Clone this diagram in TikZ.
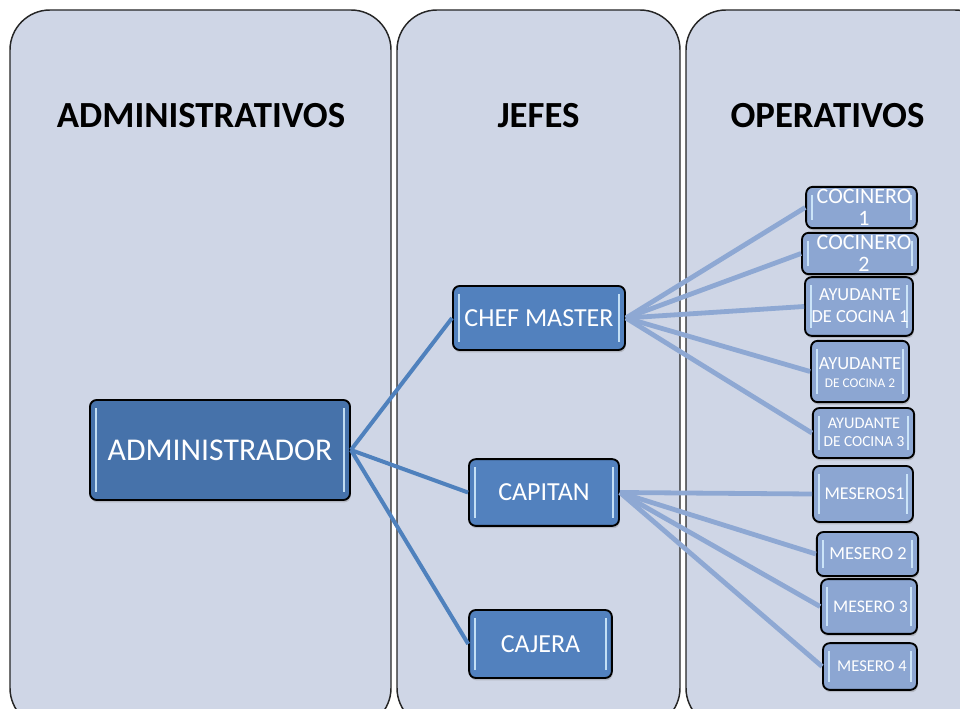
\documentclass[tikz,border=0pt]{standalone}
\usepackage{fontspec}
\setmainfont{Carlito}
\usetikzlibrary{shadows}
\definecolor{panelfill}{RGB}{207,214,230}
\definecolor{admfill}{RGB}{70,114,170}
\definecolor{jefefill}{RGB}{82,129,190}
\definecolor{opfill}{RGB}{140,166,210}
\definecolor{lineA}{RGB}{79,129,189}
\definecolor{lineB}{RGB}{142,168,211}
\definecolor{bevelc}{RGB}{215,240,255}
\begin{document}
\begin{tikzpicture}[x=0.75pt,y=-0.75pt,
  panel/.style={draw=black!85, line width=1.1pt, fill=panelfill, rounded corners=30pt},
  paneltitle/.style={font=\bfseries\fontsize{27.6}{33}\selectfont, anchor=base, inner sep=0pt},
  boxbase/.style={draw=black, line width=1.4pt, rounded corners=5pt, inner sep=0pt,
    text=white, align=center,
    drop shadow={shadow xshift=0.6pt, shadow yshift=-1.8pt, opacity=0.35},
    path picture={
      \draw[bevelc, line width=1.6pt, opacity=0.85]
        ([xshift=4.5pt,yshift=-6pt]path picture bounding box.north west) --
        ([xshift=4.5pt,yshift=6pt]path picture bounding box.south west);
      \draw[bevelc, line width=1.6pt, opacity=0.85]
        ([xshift=-4.5pt,yshift=-6pt]path picture bounding box.north east) --
        ([xshift=-4.5pt,yshift=6pt]path picture bounding box.south east);
    }},
  admbox/.style={boxbase, fill=admfill},
  jefebox/.style={boxbase, fill=jefefill, font=\fontsize{19.5}{22}\selectfont},
  opbox/.style={boxbase, fill=opfill},
  optext/.style={text=white, align=center, inner sep=0pt},
  linkA/.style={draw=lineA, line width=3pt},
  linkB/.style={draw=lineB, line width=3.6pt}
]
\useasboundingbox (0,0) rectangle (960,709);
\fill[white] (0,0) rectangle (960,709);

% panels
\draw[panel] (10,10) rectangle (391,728);
\draw[panel] (397,10) rectangle (680,728);
\draw[panel] (686,10) rectangle (995,728);

\node[paneltitle] (t1) at (201,128) {ADMINISTRATIVOS};
\node[paneltitle] (t2) at (538.5,128) {JEFES};
\node[paneltitle] (t3) at (827.5,128) {OPERATIVOS};

% main nodes
\node[admbox, minimum width=195pt, minimum height=75pt, font=\fontsize{23.8}{26}\selectfont] (adm) at (220,450) {ADMINISTRADOR};
\node[jefebox, minimum width=129pt, minimum height=48pt] (chef) at (539,318) {CHEF MASTER};
\node[jefebox, minimum width=112.5pt, minimum height=50pt] (cap) at (544,492.5) {CAPITAN};
\node[jefebox, minimum width=107pt, minimum height=51pt] (caj) at (540.5,644) {CAJERA};

% operative boxes
\node[opbox, minimum width=83pt, minimum height=31pt] (c1) at (861.5,207.5) {};
\node[opbox, minimum width=87pt, minimum height=31pt] (c2) at (860,253.5) {};
\node[opbox, minimum width=81pt, minimum height=44pt] (a1) at (859,306.5) {};
\node[opbox, minimum width=73.5pt, minimum height=46pt] (a2) at (860,371.5) {};
\node[opbox, minimum width=76pt, minimum height=37.5pt] (a3) at (863.5,433) {};
\node[opbox, minimum width=75pt, minimum height=42pt] (m1) at (863,494) {};
\node[opbox, minimum width=76pt, minimum height=33pt] (m2) at (867.5,554) {};
\node[opbox, minimum width=72pt, minimum height=41pt] (m3) at (869,606.5) {};
\node[opbox, minimum width=70.5pt, minimum height=35pt] (m4) at (870,666.5) {};

% operative texts
\node[optext, font=\fontsize{16.5}{16.5}\selectfont] (c1t) at (864,207.5) {COCINERO\\1};
\node[optext, font=\fontsize{16.5}{16.5}\selectfont] (c2t) at (864,253.5) {COCINERO\\2};
\node[optext, font=\fontsize{13.8}{16}\selectfont] (a1t) at (860,305.5) {AYUDANTE\\DE COCINA 1};
\node[optext, font=\fontsize{13.9}{13}\selectfont] (a2t) at (860,372.5) {AYUDANTE\\{\fontsize{10}{13}\selectfont DE COCINA 2}};
\node[optext, font=\fontsize{12.2}{13.5}\selectfont] (a3t) at (864,432.5) {AYUDANTE\\{\fontsize{11.5}{13.5}\selectfont DE COCINA 3}};
\node[optext, font=\fontsize{13.5}{16}\selectfont] (m1t) at (864.5,494) {MESEROS1};
\node[optext, font=\fontsize{13.8}{16}\selectfont] (m2t) at (868,554) {MESERO 2};
\node[optext, font=\fontsize{13.3}{16}\selectfont] (m3t) at (870.5,606.5) {MESERO 3};
\node[optext, font=\fontsize{12.4}{16}\selectfont] (m4t) at (872,666.5) {MESERO 4};

% connectors
\draw[linkA] (adm.east) -- (chef.west);
\draw[linkA] (adm.east) -- (cap.west);
\draw[linkA] (adm.east) -- (caj.west);

\foreach \n in {c1,c2,a1,a2,a3}
  \draw[linkB] (chef.east) -- (\n.west);
\foreach \n in {m1,m2,m3,m4}
  \draw[linkB] (cap.east) -- (\n.west);
\end{tikzpicture}
\end{document}
